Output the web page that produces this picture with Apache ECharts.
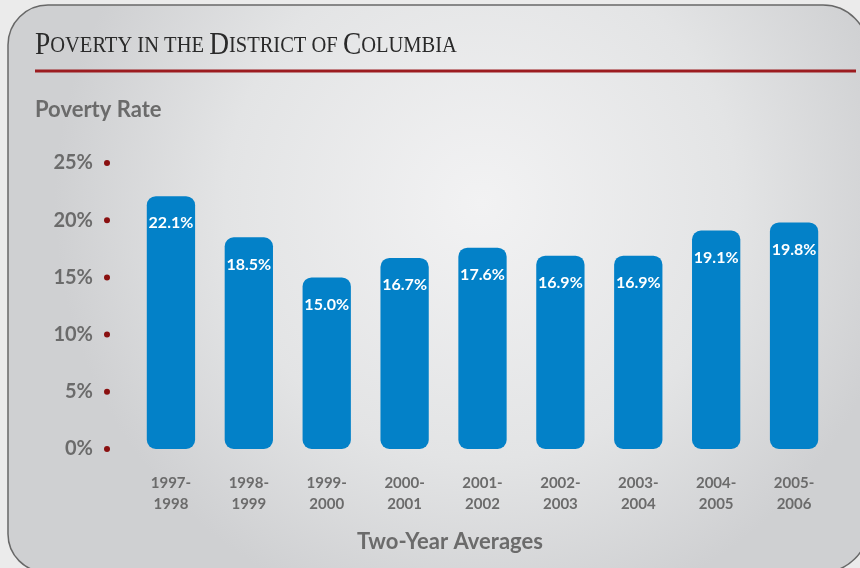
<!DOCTYPE html>
<html>
<head>
<meta charset="utf-8">
<script src="https://cdn.jsdelivr.net/npm/echarts@6/dist/echarts.min.js"></script>
<style>
  html, body { margin: 0; padding: 0; background: #ebebeb; }
  #chart { width: 860px; height: 568px; }
</style>
</head>
<body>
<div id="chart"></div>
<script>
// Two-year average periods and the poverty rate (%) for each
const periods = ['1997-\n1998', '1998-\n1999', '1999-\n2000', '2000-\n2001', '2001-\n2002',
                 '2002-\n2003', '2003-\n2004', '2004-\n2005', '2005-\n2006'];
const povertyRate = [22.1, 18.5, 15.0, 16.7, 17.6, 16.9, 16.9, 19.1, 19.8];
const rateTicks = [0, 5, 10, 15, 20, 25];

const titleText = 'Poverty in the District of Columbia';
const yTitle = 'Poverty Rate';
const xTitle = 'Two-Year Averages';

const GRAY = '#6b6b6b';
const FONT = 'Lato, "Open Sans", sans-serif';

// Build small-caps rich text: first letter of major words large, rest small
function smallCaps(str) {
  const bigWords = ['Poverty', 'District', 'Columbia'];
  return str.split(' ').map(w => {
    if (bigWords.includes(w)) {
      return '{big|' + w[0] + '}{small|' + w.slice(1).toUpperCase() + '}';
    }
    return '{small|' + w.toUpperCase() + '}';
  }).join('{small| }');
}

const chart = echarts.init(document.getElementById('chart'), null, { renderer: 'canvas' });

chart.setOption({
  backgroundColor: '#ebebeb',
  animation: false,
  graphic: [
    {
      type: 'rect',
      z: -10,
      silent: true,
      shape: { x: 8, y: 5, width: 860, height: 567, r: [40, 45, 45, 38] },
      style: {
        fill: {
          type: 'radial', x: 0.55, y: 0.35, r: 0.75,
          colorStops: [
            { offset: 0, color: '#f2f2f3' },
            { offset: 0.6, color: '#e3e4e5' },
            { offset: 1, color: '#cfd0d2' }
          ]
        },
        stroke: '#686868',
        lineWidth: 1.5
      }
    },
    {
      type: 'text',
      left: 35,
      top: 30,
      scaleX: 0.855,
      style: {
        text: smallCaps(titleText),
        fill: '#2a2a2a',
        rich: {
          big: { fontFamily: '"Liberation Serif", serif', fontSize: 32, fill: '#2a2a2a' },
          small: { fontFamily: '"Liberation Serif", serif', fontSize: 24, fill: '#2a2a2a' }
        }
      }
    },
    {
      type: 'line',
      silent: true,
      shape: { x1: 35, y1: 71, x2: 856, y2: 71 },
      style: { stroke: '#9c1c20', lineWidth: 3 }
    },
    {
      type: 'text',
      left: 35,
      top: 99,
      style: {
        text: yTitle,
        fontFamily: FONT, fontWeight: 'bold', fontSize: 22, fill: GRAY
      }
    },
    {
      type: 'text',
      left: 357,
      top: 531,
      style: {
        text: xTitle,
        fontFamily: FONT, fontWeight: 'bold', fontSize: 22, fill: GRAY
      }
    }
  ],
  grid: { left: 132, right: 27, top: 163, bottom: 119, containLabel: false },
  xAxis: {
    type: 'category',
    data: periods,
    axisLine: { show: false },
    axisTick: { show: false },
    axisLabel: {
      margin: 24,
      fontFamily: FONT, fontWeight: 'bold', fontSize: 15, color: GRAY,
      lineHeight: 21
    }
  },
  yAxis: {
    type: 'value',
    min: rateTicks[0],
    max: rateTicks[rateTicks.length - 1],
    interval: rateTicks[1] - rateTicks[0],
    splitLine: { show: false },
    axisLine: { show: false },
    axisTick: { show: false },
    axisLabel: {
      margin: 22,
      formatter: v => '{v|' + v + '%}{g|}{d|}',
      rich: {
        v: { fontFamily: FONT, fontWeight: 'bold', fontSize: 20, color: GRAY },
        g: { width: 11 },
        d: { width: 6, height: 6, borderRadius: 3, backgroundColor: '#8a1010' }
      }
    }
  },
  series: [{
    type: 'bar',
    data: povertyRate,
    barWidth: '62%',
    itemStyle: { color: '#0381c8', borderRadius: 9 },
    label: {
      show: true,
      position: 'insideTop',
      distance: 19,
      formatter: p => p.value.toFixed(1) + '%',
      fontFamily: FONT, fontWeight: 'bold', fontSize: 16, color: '#ffffff'
    }
  }]
});
</script>
</body>
</html>
